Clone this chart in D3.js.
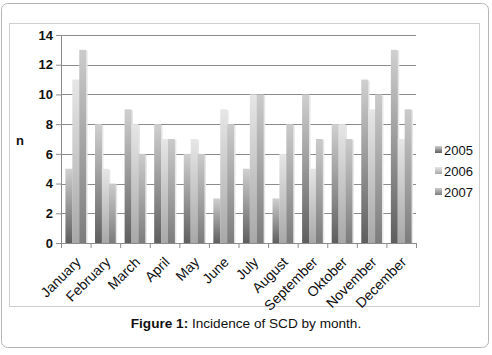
<!DOCTYPE html>
<html>
<head>
<meta charset="utf-8">
<script src="https://cdn.jsdelivr.net/npm/d3@7"></script>
<style>
  body { margin: 0; background: #fff; }
  text { font-family: Arial, "Liberation Sans", sans-serif; }
</style>
</head>
<body>
<div id="chart"></div>
<script>
// Chart data
const months = ["January", "February", "March", "April", "May", "June",
                "July", "August", "September", "Oktober", "November", "December"];
const years = ["2005", "2006", "2007"];
const v2005 = [5, 8, 9, 8, 6, 3, 5, 3, 10, 8, 11, 13];
const v2006 = [11, 5, 8, 7, 7, 9, 10, 6, 5, 8, 9, 7];
const v2007 = [13, 4, 6, 7, 6, 8, 10, 8, 7, 7, 10, 9];
const yTicks = [0, 2, 4, 6, 8, 10, 12, 14];

const series = [v2005, v2006, v2007];
const data = months.map((m, i) => ({
  month: m,
  values: years.map((y, j) => ({ year: y, value: series[j][i] }))
}));

const W = 492, H = 355;
const margin = { top: 35, right: 76, bottom: 112, left: 61 },
      width = W - margin.left - margin.right,
      height = H - margin.top - margin.bottom;

const root = d3.select("#chart")
  .append("svg")
  .attr("width", W)
  .attr("height", H);

// gradients per series (dark at bottom, light at top)
const grads = {
  "2005": ["#5e5e5e", "#d0d0d0"],
  "2006": ["#a8a8a8", "#e6e6e6"],
  "2007": ["#7c7c7c", "#cbcbcb"]
};
const defs = root.append("defs");
years.forEach(y => {
  const g = defs.append("linearGradient")
    .attr("id", "g" + y)
    .attr("x1", 0).attr("y1", 1).attr("x2", 0).attr("y2", 0);
  g.append("stop").attr("offset", "0%").attr("stop-color", grads[y][0]);
  g.append("stop").attr("offset", "100%").attr("stop-color", grads[y][1]);
});

// outer rounded frame and inner chart frame
root.append("rect")
  .attr("x", 1.5).attr("y", 3.5)
  .attr("width", 487).attr("height", 344)
  .attr("rx", 6)
  .attr("fill", "#fff")
  .attr("stroke", "#b5b5b5");

root.append("rect")
  .attr("x", 9.5).attr("y", 23.5)
  .attr("width", 470).attr("height", 283)
  .attr("fill", "none")
  .attr("stroke", "#cfcfcf");

const svg = root.append("g")
  .attr("transform", `translate(${margin.left},${margin.top})`);

// Scales
const x0 = d3.scaleBand()
  .domain(months)
  .range([0, width])
  .paddingInner(0)
  .paddingOuter(0);

const x1 = d3.scaleBand()
  .domain(years)
  .range([x0.bandwidth() * 0.15, x0.bandwidth() * 0.85])
  .padding(0);

const y = d3.scaleLinear()
  .domain([0, 14])
  .range([height, 0]);

// Gridlines
svg.append("g")
  .selectAll("line")
  .data(yTicks.filter(d => d > 0))
  .join("line")
  .attr("x1", 0).attr("x2", width)
  .attr("y1", d => Math.round(y(d)) + 0.5)
  .attr("y2", d => Math.round(y(d)) + 0.5)
  .attr("stroke", "#8c8c8c");

// Bars
const groups = svg.selectAll("g.layer")
  .data(data)
  .join("g")
  .attr("class", "layer")
  .attr("transform", d => `translate(${x0(d.month)},0)`);

// soft shadow
groups.selectAll("rect.shadow")
  .data(d => d.values)
  .join("rect")
  .attr("class", "shadow")
  .attr("x", d => x1(d.year) + 1.5)
  .attr("y", d => y(d.value) + 1)
  .attr("width", x1.bandwidth())
  .attr("height", d => height - y(d.value) - 1)
  .attr("fill", "#e6e6e6");

groups.selectAll("rect.bar")
  .data(d => d.values)
  .join("rect")
  .attr("class", "bar")
  .attr("x", d => x1(d.year))
  .attr("y", d => y(d.value))
  .attr("width", x1.bandwidth())
  .attr("height", d => height - y(d.value))
  .attr("fill", d => `url(#g${d.year})`);

// Axes
const yAxis = svg.append("g")
  .call(d3.axisLeft(y).tickValues(yTicks).tickSize(5).tickPadding(3));
yAxis.select(".domain").attr("stroke", "#8c8c8c");
yAxis.selectAll(".tick line").attr("stroke", "#8c8c8c");
yAxis.selectAll("text")
  .attr("fill", "#111")
  .style("font-size", "13px")
  .style("font-weight", "bold");

const xAxis = svg.append("g")
  .attr("transform", `translate(0,${height})`)
  .call(d3.axisBottom(x0).tickSize(0).tickFormat(""));
xAxis.select(".domain").attr("stroke", "#8c8c8c");

// category separators
svg.append("g")
  .selectAll("line")
  .data(months.map(m => x0(m)).concat([width]))
  .join("line")
  .attr("x1", d => d + 0.5).attr("x2", d => d + 0.5)
  .attr("y1", height).attr("y2", height + 5)
  .attr("stroke", "#8c8c8c");

// rotated month labels
svg.append("g")
  .selectAll("text")
  .data(months)
  .join("text")
  .attr("transform", d => `translate(${x0(d) + x0.bandwidth() / 2 + 6},${height + 20}) rotate(-45)`)
  .attr("text-anchor", "end")
  .style("font-size", "14px")
  .attr("fill", "#111")
  .text(d => d);

// y label
root.append("text")
  .attr("x", 16)
  .attr("y", 145)
  .style("font-size", "13px")
  .style("font-weight", "bold")
  .attr("fill", "#111")
  .text("n");

// Legend
const legend = root.append("g")
  .attr("transform", "translate(435,145)");

legend.selectAll("rect")
  .data(years)
  .join("rect")
  .attr("x", 0)
  .attr("y", (d, i) => i * 21 + 1)
  .attr("width", 7)
  .attr("height", 7)
  .attr("fill", d => `url(#g${d})`);

legend.selectAll("text")
  .data(years)
  .join("text")
  .attr("x", 9)
  .attr("y", (d, i) => i * 21 + 10)
  .style("font-size", "13px")
  .attr("fill", "#111")
  .text(d => d);

// Caption
const cap = root.append("text")
  .attr("x", 246)
  .attr("y", 328)
  .attr("text-anchor", "middle")
  .style("font-size", "13.6px")
  .attr("fill", "#111");
cap.append("tspan").style("font-weight", "bold").text("Figure 1: ");
cap.append("tspan").text("Incidence of SCD by month.");
</script>
</body>
</html>
